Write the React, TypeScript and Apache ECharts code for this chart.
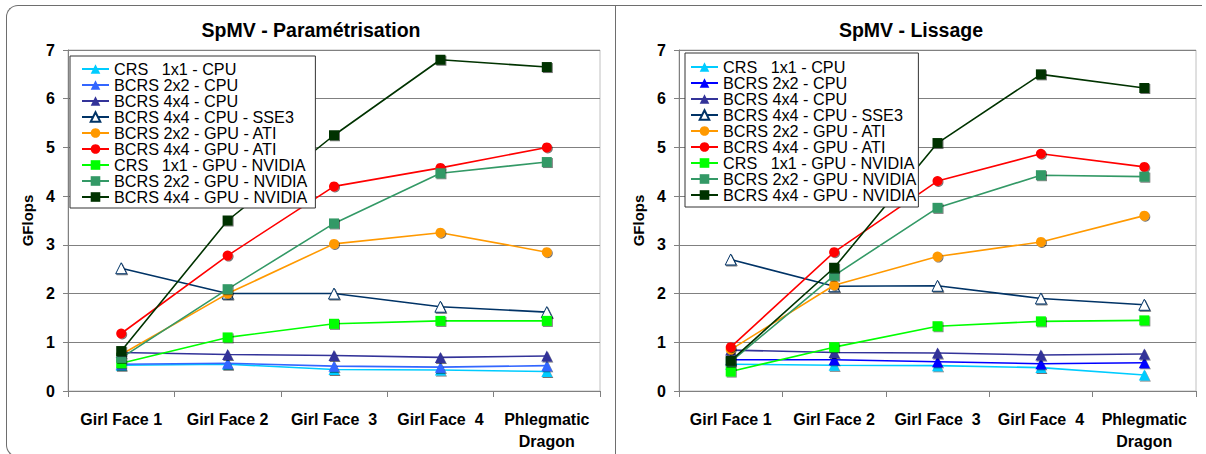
import React, { useEffect, useRef } from "react";
import * as echarts from "echarts";

const categories = ["Girl Face 1", "Girl Face 2", "Girl Face  3", "Girl Face  4", "Phlegmatic\nDragon"];
const seriesNames = [
  "CRS   1x1 - CPU",
  "BCRS 2x2 - CPU",
  "BCRS 4x4 - CPU",
  "BCRS 4x4 - CPU - SSE3",
  "BCRS 2x2 - GPU - ATI",
  "BCRS 4x4 - GPU - ATI",
  "CRS   1x1 - GPU - NVIDIA",
  "BCRS 2x2 - GPU - NVIDIA",
  "BCRS 4x4 - GPU - NVIDIA",
];
const yTicks = [0, 1, 2, 3, 4, 5, 6, 7];

// Left: SpMV - Paramétrisation
const crsCpuL = [0.53, 0.55, 0.44, 0.43, 0.4];
const bcrs2CpuL = [0.55, 0.57, 0.51, 0.49, 0.52];
const bcrs4CpuL = [0.79, 0.75, 0.73, 0.69, 0.72];
const sse3L = [2.52, 2.0, 2.0, 1.73, 1.62];
const ati2L = [0.75, 2.0, 3.02, 3.25, 2.85];
const ati4L = [1.18, 2.78, 4.2, 4.58, 5.0];
const nv1L = [0.57, 1.1, 1.38, 1.44, 1.44];
const nv2L = [0.68, 2.09, 3.44, 4.47, 4.7];
const nv4L = [0.82, 3.5, 5.25, 6.8, 6.65];

// Right: SpMV - Lissage
const crsCpuR = [0.55, 0.53, 0.52, 0.48, 0.33];
const bcrs2CpuR = [0.64, 0.64, 0.6, 0.56, 0.58];
const bcrs4CpuR = [0.84, 0.79, 0.78, 0.74, 0.76];
const sse3R = [2.7, 2.15, 2.16, 1.9, 1.77];
const ati2R = [0.85, 2.17, 2.76, 3.06, 3.6];
const ati4R = [0.9, 2.85, 4.31, 4.87, 4.6];
const nv1R = [0.4, 0.9, 1.33, 1.43, 1.45];
const nv2R = [0.6, 2.37, 3.76, 4.43, 4.4];
const nv4R = [0.62, 2.53, 5.09, 6.5, 6.22];

const symbolsList = ["triangle", "triangle", "triangle", "triangle", "circle", "circle", "rect", "rect", "rect"];
const hollowList = [false, false, false, true, false, false, false, false, false];
const colorsL = ["#00ccff", "#3366ff", "#333399", "#003366", "#ff9900", "#ff0000", "#00ff00", "#339966", "#003300"];
const colorsR = ["#00ccff", "#0000ff", "#333399", "#003366", "#ff9900", "#ff0000", "#00ff00", "#339966", "#003300"];

const FONT = "'Liberation Sans', Arial, sans-serif";

function buildOption(
  title: string,
  titleX: number,
  data: number[][],
  colors: string[],
  grid: { left: number; right: number },
  legendPos: { left: number; top: number; padding: number[] }
) {
  const series = data.map((vals, i) => {
    const sym = symbolsList[i];
    const size = sym === "circle" ? 10 : sym === "rect" ? 10 : 11;
    const itemStyle: any = {
      color: colors[i],
      shadowColor: "rgba(0,0,0,0.55)",
      shadowOffsetX: 1,
      shadowOffsetY: 1,
      shadowBlur: 0,
    };
    if (hollowList[i]) {
      itemStyle.color = "#ffffff";
      itemStyle.borderWidth = 1;
      itemStyle.borderColor = colors[i];
    }
    return {
      name: seriesNames[i],
      type: "line",
      data: vals,
      symbol: sym,
      symbolSize: size,
      showAllSymbol: true,
      lineStyle: { color: colors[i], width: 1.6 },
      itemStyle,
      emphasis: { disabled: true },
      z: 2 + i,
    };
  });
  return {
    animation: false,
    textStyle: { fontFamily: FONT },
    graphic: [
      {
        type: "text",
        x: titleX,
        y: 30,
        style: {
          text: title,
          fontFamily: FONT,
          fontSize: 19.5,
          fontWeight: "bold",
          fill: "#000",
          textAlign: "center",
          textVerticalAlign: "middle",
        },
      },
    ],
    grid: {
      left: grid.left,
      right: grid.right,
      top: 50,
      bottom: 63,
      show: true,
      borderColor: "#c0c0c0",
      borderWidth: 1,
      backgroundColor: "transparent",
    },
    legend: {
      orient: "vertical",
      left: legendPos.left,
      top: legendPos.top,
      padding: legendPos.padding,
      backgroundColor: "#fff",
      borderColor: "#333",
      borderWidth: 1,
      borderRadius: 0,
      itemWidth: 27,
      itemHeight: 12,
      itemGap: 0,
      itemStyle: { shadowColor: "transparent" },
      textStyle: { fontFamily: FONT, fontSize: 16.2, color: "#000", lineHeight: 14.2 },
      data: seriesNames,
      selectedMode: false,
      z: 20,
    },
    xAxis: {
      type: "category",
      data: categories,
      boundaryGap: true,
      axisLine: { lineStyle: { color: "#808080", width: 1 } },
      axisTick: { show: true, length: 6, lineStyle: { color: "#808080" } },
      axisLabel: {
        interval: 0,
        margin: 17,
        fontFamily: FONT,
        fontSize: 16,
        fontWeight: "bold",
        color: "#000",
        lineHeight: 22,
      },
      splitLine: { show: false },
    },
    yAxis: {
      type: "value",
      min: yTicks[0],
      max: yTicks[yTicks.length - 1],
      interval: 1,
      name: "GFlops",
      nameLocation: "middle",
      nameGap: 33,
      nameRotate: 90,
      nameTextStyle: { fontFamily: FONT, fontSize: 15, fontWeight: "bold", color: "#000" },
      axisLine: { show: true, lineStyle: { color: "#808080", width: 1 } },
      axisTick: { show: true, length: 5, lineStyle: { color: "#808080" } },
      axisLabel: { margin: 13, fontFamily: FONT, fontSize: 16, fontWeight: "bold", color: "#000" },
      splitLine: { show: true, lineStyle: { color: "#808080", width: 1 } },
    },
    series,
  };
}

function ChartPanel(props: { style: React.CSSProperties; option: any }) {
  const ref = useRef<HTMLDivElement>(null);
  useEffect(() => {
    if (!ref.current) return;
    const chart = echarts.init(ref.current, undefined, { renderer: "svg" });
    chart.setOption(props.option);
    return () => chart.dispose();
  }, []);
  return <div ref={ref} style={props.style} />;
}

export default function App() {
  const leftOption = buildOption(
    "SpMV - Paramétrisation",
    311,
    [crsCpuL, bcrs2CpuL, bcrs4CpuL, sse3L, ati2L, ati4L, nv1L, nv2L, nv4L],
    colorsL,
    { left: 68, right: 15 },
    { left: 70, top: 56, padding: [5, 8, 3, 11] }
  );
  const rightOption = buildOption(
    "SpMV - Lissage",
    296,
    [crsCpuR, bcrs2CpuR, bcrs4CpuR, sse3R, ati2R, ati4R, nv1R, nv2R, nv4R],
    colorsR,
    { left: 64, right: 10 },
    { left: 70, top: 53, padding: [6, 2, 4, 5] }
  );
  return (
    <div
      style={{
        position: "absolute",
        left: 0,
        top: 0,
        width: 1206,
        height: 454,
        overflow: "hidden",
        background: "#fff",
      }}
    >
      <div
        style={{
          position: "absolute",
          left: 6,
          top: 5,
          width: 1196,
          height: 452,
          borderTop: "1px solid #6e6e6e",
          borderLeft: "1px solid #6e6e6e",
          borderBottom: "1px solid #6e6e6e",
          borderTopLeftRadius: 12,
          borderBottomLeftRadius: 12,
          boxSizing: "border-box",
        }}
      />
      <div
        style={{
          position: "absolute",
          left: 615,
          top: 5,
          width: 1,
          height: 452,
          background: "#6e6e6e",
        }}
      />
      <ChartPanel
        option={leftOption}
        style={{ position: "absolute", left: 0, top: 0, width: 615, height: 454 }}
      />
      <ChartPanel
        option={rightOption}
        style={{ position: "absolute", left: 615, top: 0, width: 591, height: 454 }}
      />
    </div>
  );
}
